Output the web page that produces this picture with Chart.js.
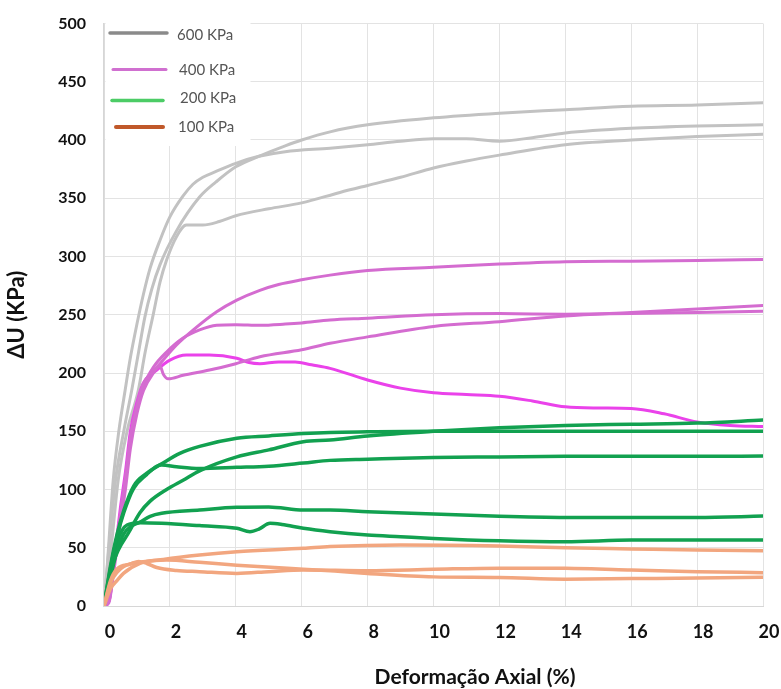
<!DOCTYPE html>
<html><head><meta charset="utf-8">
<script src="https://cdn.jsdelivr.net/npm/chart.js@4.4.1/dist/chart.umd.min.js"></script>
<style>html,body{margin:0;padding:0;background:#fff;overflow:hidden}canvas{display:block}</style>
</head><body><canvas id="c" width="781" height="689"></canvas>
<script>
// ---- Data (x = Deformação Axial %, y = ΔU KPa) ----
const xTicks = [0,2,4,6,8,10,12,14,16,18,20];
const yTicks = [0,50,100,150,200,250,300,350,400,450,500];
const legendLabels = ['600 KPa','400 KPa','200 KPa','100 KPa'];
const xTitle = 'Deformação Axial (%)';
const yTitle = 'ΔU (KPa)';

const g600a = [[0,0],[0.15,50],[0.35,108],[0.6,150],[0.84,185],[1.05,218],[1.24,248],[1.45,272],[1.7,293],[2.2,322],[2.9,351],[3.4,364],[4.0,377],[4.7,386],[5.5,395],[6.0,400],[6.86,407],[8,413],[10,419],[12,423],[14,426],[16,429],[18,430],[20,432]];
const g600b = [[0,0],[0.1,35],[0.28,108],[0.45,150],[0.64,185],[0.8,213],[1.0,242],[1.2,268],[1.4,290],[1.7,314],[2.0,334],[2.4,352],[2.7,362],[3.0,368],[3.4,373],[4.0,380],[4.7,386],[5.5,390],[6.86,393],[8,396],[9,399],[10,401],[11,401],[12,399],[13,402],[14,406],[16,410],[18,412],[20,413]];
const g600c = [[0,0],[0.2,45],[0.43,108],[0.7,150],[1.04,185],[1.25,218],[1.5,251],[1.7,278],[1.9,297],[2.2,317],[2.5,327],[3.0,327],[3.5,330],[4.0,335],[5.0,341],[6.0,346],[7.16,355],[8,361],[9,368],[10,376],[11,382],[12,387],[14,396],[16,400],[18,403],[20,405]];

const m400a = [[0,0],[0.15,4],[0.3,35],[0.5,80],[0.65,110],[0.8,145],[1.0,172],[1.19,191],[1.45,200],[1.7,208],[2.2,224],[2.71,237],[3.42,252.6],[4.03,262.6],[4.73,271],[5.3,276],[6,280],[6.86,284],[8,288],[10,290.7],[12,293.5],[14,295.5],[16,296],[18,296.5],[20,297.5]];
const m400b = [[0,0],[0.15,4],[0.3,33],[0.5,78],[0.65,108],[0.8,142],[1.0,170],[1.2,189],[1.5,205],[1.9,218],[2.4,230],[2.9,237],[3.42,241],[4.0,241.5],[4.73,241],[5.5,242],[6,243],[6.86,245.5],[8,247],[10,250],[12,251],[14,250.5],[16,251],[18,252],[20,253]];
const m400c = [[0,0],[0.15,3],[0.3,30],[0.5,72],[0.65,100],[0.8,135],[1.0,165],[1.2,185],[1.5,200],[1.7,206],[1.8,199],[1.95,195],[2.4,198],[3.2,202.5],[4.0,208],[4.73,214],[6,220],[6.86,225.5],[8,231],[10,240],[12,244],[14,249],[16,252],[18,255],[20,258]];
const m400d = [[0,0],[0.15,5],[0.3,38],[0.5,85],[0.65,115],[0.8,150],[1.0,175],[1.19,191],[1.6,202.5],[2.0,211],[2.5,215.4],[3.2,215.4],[4.03,212.6],[4.4,209],[4.73,208],[5.3,209.5],[5.8,209.5],[6.3,207],[6.86,204],[8,194],[9,187],[10,183],[11,181.5],[12,180],[13,176],[14,171],[15,170],[16,169.6],[17,165],[18,158],[19,155],[20,154]];

const v200a = [[0,0],[0.2,35],[0.4,62],[0.6,82],[0.9,103],[1.3,114],[1.75,122],[2.3,131],[2.9,137],[4.03,144],[5,146],[6.05,148],[6.86,149],[8,149.5],[10,150],[12,150],[14,150],[16,150],[18,150],[20,150]];
const v200b = [[0,0],[0.28,37],[0.79,65],[1.09,80],[1.4,90],[1.9,100],[2.4,108],[2.9,116],[4.03,128],[5,134],[6.05,141],[6.86,142.5],[8,146],[10,150],[12,153],[14,155],[16,156],[18,157],[20,159.6]];
const v200c = [[0,0],[0.2,33],[0.4,60],[0.6,80],[0.9,101],[1.3,113],[1.6,120],[1.75,121],[2.2,119.5],[2.9,118],[4.03,119],[5,120],[6.05,122.7],[6.86,125],[8,126],[10,127.5],[12,128],[14,128.5],[16,128.5],[18,128.5],[20,128.7]];
const v200d = [[0,0],[0.2,25],[0.4,48],[0.6,62],[0.8,68],[1.09,72],[1.4,77],[1.75,79.6],[2.9,82.4],[4.03,84.7],[5,85],[6.05,82.4],[6.86,82.4],[8,81],[10,79],[12,77],[14,76],[16,76],[18,76],[20,77.2]];
const v200e = [[0,0],[0.2,30],[0.4,55],[0.55,65],[0.7,69.5],[1.09,71.5],[1.75,71],[2.9,69],[4.03,66.7],[4.43,63.8],[4.7,66],[5.04,71],[5.4,70],[6.05,66.7],[6.86,63.8],[8,61],[9,59.5],[10,58],[12,56],[14,55.2],[16,56.6],[18,56.6],[20,56.6]];

const o100a = [[0,0],[0.2,15],[0.4,22],[0.59,28],[1.09,36.6],[1.8,40],[2.9,43.8],[4.03,46.6],[6.05,49.5],[6.86,51],[9,52.4],[12,51.5],[14,50],[16,49],[18,48],[20,47.5]];
const o100b = [[0,0],[0.2,22],[0.4,32],[0.8,36],[1.05,38.3],[1.3,36.5],[1.6,33],[2.2,30.5],[2.9,29.5],[4.03,28],[5,29.5],[6.05,31],[8,30.3],[10,31.5],[12,32.5],[14,32.3],[16,31],[18,29.5],[20,28.6]];
const o100c = [[0,0],[0.2,20],[0.4,29],[0.59,33.8],[1.19,38],[1.9,39.5],[2.9,37.5],[4.03,35],[6.05,31.5],[7,30],[8,28],[10,25],[12,24.5],[14,23],[16,23.5],[18,24],[20,24.6]];

// ---- Styles ----
const GRAY = '#c2c2c2', ORCHID = '#d46cd0', MAG = '#ea42ea', GREEN = '#12a150', SALMON = '#f2a67f';
const legendColors = ['#8a8a8a','#d070d0','#4ccc66','#c0582a'];

function ds(pts, color, w){
  return {data: pts.map(p => ({x:p[0], y:p[1]})), borderColor: color, borderWidth: w,
          pointRadius: 0, fill: false, cubicInterpolationMode: 'monotone', borderCapStyle:'round', borderJoinStyle:'round'};
}

const datasets = [
  ds(o100a, SALMON, 3.5), ds(o100b, SALMON, 3.5), ds(o100c, SALMON, 3.5),
  ds(v200a, GREEN, 3.5), ds(v200b, GREEN, 3.5), ds(v200c, GREEN, 3.5), ds(v200d, GREEN, 3.5), ds(v200e, GREEN, 3.5),
  ds(m400a, ORCHID, 3), ds(m400b, ORCHID, 3), ds(m400c, ORCHID, 3), ds(m400d, MAG, 3),
  ds(g600a, GRAY, 3), ds(g600b, GRAY, 3), ds(g600c, GRAY, 3)
];

const legendPlugin = {
  id: 'customLegend',
  beforeDatasetsDraw(chart){
    const ctx = chart.ctx;
    ctx.save();
    ctx.fillStyle = '#ffffff';
    ctx.fillRect(105.5, 18, 145, 128);
    ctx.restore();
  },
  afterDraw(chart){
    const ctx = chart.ctx;
    ctx.save();
    const rows = [
      {x1:110, x2:167, y:33, w:3.5, tx:177, ty:35},
      {x1:113, x2:166, y:69.5, w:3, tx:179, ty:70},
      {x1:112, x2:163, y:100.5, w:3.5, tx:180, ty:98.5},
      {x1:116, x2:163, y:127, w:4, tx:178, ty:127.5}
    ];
    rows.forEach((r,i) => {
      ctx.strokeStyle = legendColors[i];
      ctx.lineWidth = r.w;
      ctx.lineCap = 'round';
      ctx.beginPath(); ctx.moveTo(r.x1, r.y); ctx.lineTo(r.x2, r.y); ctx.stroke();
      ctx.fillStyle = '#555555';
      ctx.font = '15px Lato';
      ctx.textAlign = 'left';
      ctx.textBaseline = 'middle';
      ctx.fillText(legendLabels[i], r.tx, r.ty);
    });
    ctx.fillStyle = '#111111';
    ctx.font = 'bold 21px Lato';
    ctx.textAlign = 'center';
    ctx.textBaseline = 'middle';
    ctx.fillText(xTitle, 475, 677);
    ctx.restore();
  }
};

new Chart(document.getElementById('c'), {
  type: 'line',
  data: { datasets },
  plugins: [legendPlugin],
  options: {
    responsive: false,
    animation: false,
    layout: { padding: { left: 0, right: 18, top: 23.5, bottom: 0 } },
    plugins: { legend: { display: false }, tooltip: { enabled: false } },
    scales: {
      x: {
        type: 'linear', min: 0, max: 20,
        afterBuildTicks(s){ s.ticks = xTicks.map(v => ({value: v})); },
        afterFit(s){ s.height = 83; s.paddingLeft = 0; s.paddingRight = 0; },
        ticks: { labelOffset: 6, padding: 15, color: '#111', font: { family: 'Lato', weight: 'bold', size: 18 } },
        grid: { color: '#e3e3e3', lineWidth: 1, drawTicks: false },
        border: { color: '#d6d6d6', width: 1 }
      },
      y: {
        type: 'linear', min: 0, max: 500,
        afterBuildTicks(s){ s.ticks = yTicks.map(v => ({value: v})); },
        afterFit(s){ s.width = 104; s.paddingTop = 0; s.paddingBottom = 0; },
        ticks: { padding: 18, color: '#111', font: { family: 'Lato', weight: 'bold', size: 16 } },
        grid: { color: '#e3e3e3', lineWidth: 1, drawTicks: false },
        border: { color: '#d6d6d6', width: 1.5 },
        title: { display: true, text: yTitle, color: '#111', font: { family: 'Lato', weight: 'bold', size: 22 }, padding: { top: 4, bottom: 0 } }
      }
    }
  }
});
</script></body></html>
